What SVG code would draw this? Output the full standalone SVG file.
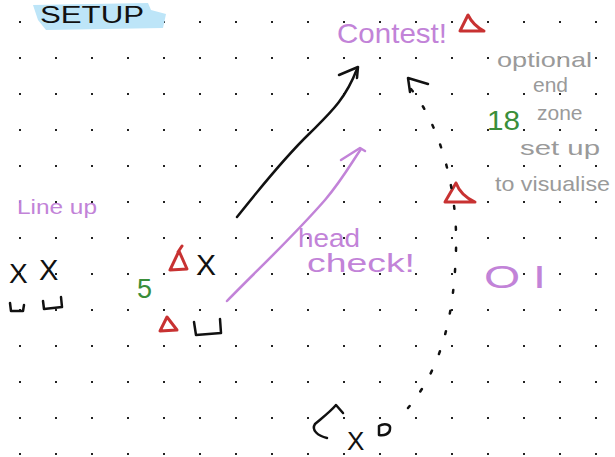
<svg xmlns="http://www.w3.org/2000/svg" width="615" height="457" viewBox="0 0 615 457">
  <defs>
    <pattern id="dots" x="1" y="3" width="36" height="36" patternUnits="userSpaceOnUse">
      <rect x="18" y="18" width="2" height="2" fill="#222"/>
    </pattern>
  </defs>
  <style>
    .hand { font-family: "Liberation Sans", "DejaVu Sans", sans-serif; }
    .purple { fill: #c283d8; }
    .gray { fill: #9a9a9a; }
    .green { fill: #3a8e3a; }
    .blk { fill: #111; }
    .tri { fill: none; stroke: #c83232; stroke-width: 3; stroke-linejoin: round; stroke-linecap: round; }
    .ink { fill: none; stroke: #111; stroke-width: 2.5; stroke-linecap: round; stroke-linejoin: round; }
    .pink { fill: none; stroke: #c283d8; stroke-width: 2.5; stroke-linecap: round; stroke-linejoin: round; }
  </style>
  <rect width="615" height="457" fill="#fff"/>
  <rect width="615" height="457" fill="url(#dots)"/>

  <g id="title">
    <path d="M33,5 L148,3 L151,10 L166,14 L163,28 L46,30 L38,20 Z" fill="#bde5f8"/>
    <text class="hand blk" x="40" y="23" font-size="24" textLength="104" lengthAdjust="spacingAndGlyphs">SETUP</text>
  </g>

  <g id="contest">
    <text class="hand purple" x="337" y="43" font-size="28" textLength="110" lengthAdjust="spacingAndGlyphs">Contest!</text>
    <path class="tri" d="M460,31 L484,31 C476,27 471,21 468,15 Z"/>
  </g>

  <g id="note">
    <text class="hand gray" font-size="21">
      <tspan x="497" y="67" textLength="95" lengthAdjust="spacingAndGlyphs">optional</tspan>
      <tspan x="533" y="92">end</tspan>
      <tspan x="537" y="120">zone</tspan>
      <tspan x="520" y="155" textLength="80" lengthAdjust="spacingAndGlyphs">set up</tspan>
      <tspan x="495" y="191" textLength="115" lengthAdjust="spacingAndGlyphs">to visualise</tspan>
    </text>
  </g>

  <g id="eighteen">
    <text class="hand green" x="487" y="130" font-size="28" textLength="33" lengthAdjust="spacingAndGlyphs">18</text>
  </g>

  <g id="right-defender">
    <path class="tri" d="M445,202 L475,202 C466,198 459,191 456,183 Z"/>
  </g>

  <g id="oi">
    <text class="hand purple" x="484" y="288" font-size="32" textLength="62" lengthAdjust="spacingAndGlyphs">O I</text>
  </g>

  <g id="head-check">
    <text class="hand purple" font-size="25">
      <tspan x="298" y="247" textLength="62" lengthAdjust="spacingAndGlyphs">head</tspan>
      <tspan x="307" y="272" textLength="108" lengthAdjust="spacingAndGlyphs">check!</tspan>
    </text>
  </g>

  <g id="lineup">
    <text class="hand purple" x="17" y="214" font-size="21" textLength="80" lengthAdjust="spacingAndGlyphs">Line up</text>
    <text class="hand blk" x="9" y="283" font-size="28">X</text>
    <text class="hand blk" x="39" y="280" font-size="29">X</text>
    <path class="ink" d="M10,303 L11,311 L23,311 L24,305"/>
    <path class="ink" d="M43,301 L44,309 L62,307 L61,297"/>
  </g>

  <g id="five">
    <text class="hand green" x="137" y="298" font-size="27">5</text>
  </g>

  <g id="mid-group">
    <path class="tri" d="M170,270 L187,269 L179,251 Z M178,252 L182,246"/>
    <text class="hand blk" x="196" y="275" font-size="30">X</text>
    <path class="tri" d="M160,331 L177,330 L167,317 Z"/>
    <path class="ink" d="M194,322 L196,335 L221,333 L220,319"/>
  </g>

  <g id="bottom-group">
    <path class="ink" d="M343,413 L336,405 C330,412 322,418 315,424 C311,430 318,436 327,438"/>
    <text class="hand blk" x="347" y="450" font-size="26">X</text>
    <path class="ink" d="M379,426 C384,423 391,424 390,429 C390,434 384,436 379,435 Z" stroke-width="2"/>
  </g>

  <g id="connectors">
    <path class="ink" d="M237,217 C260,188 285,157 310,133 C330,113 345,100 357,69"/>
    <path class="ink" d="M339,75 L358,67 L357,78"/>
    <path class="pink" d="M227,301 C255,272 290,240 325,200 C342,180 352,162 361,149"/>
    <path class="pink" d="M341,160 L360,148 L365,151"/>
    <path d="M411,89 C440,125 458,190 456,250 C454,320 440,370 408,408" fill="none" stroke="#111" stroke-width="2.5" stroke-dasharray="3 18" stroke-linecap="round"/>
    <path class="ink" d="M410,92 L408,78 L428,84" stroke-width="3"/>
  </g>
</svg>
